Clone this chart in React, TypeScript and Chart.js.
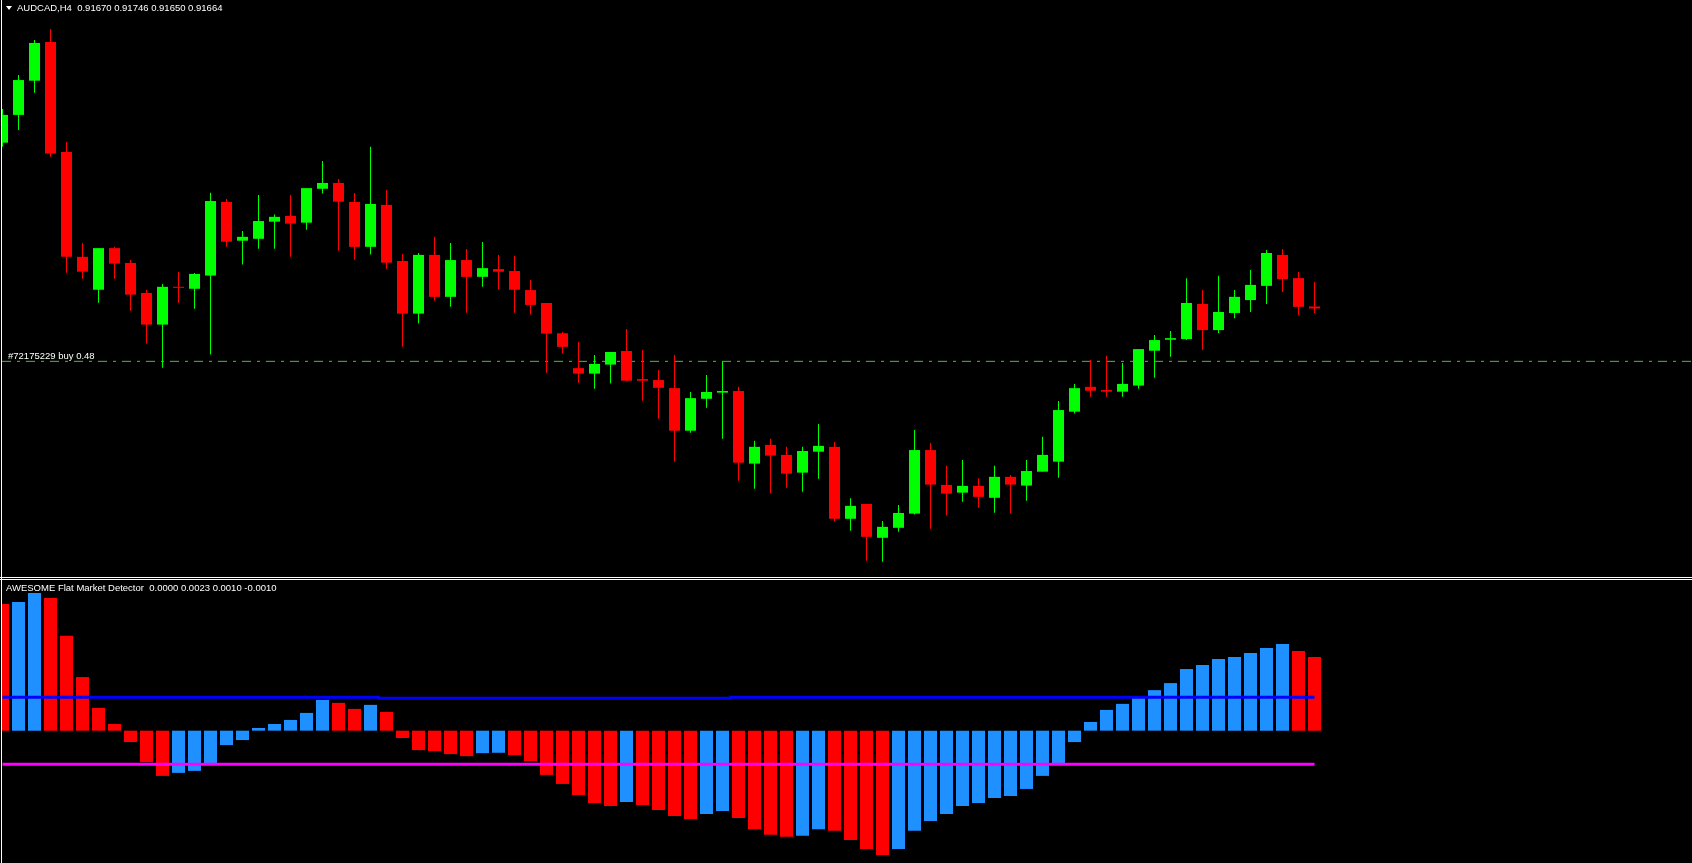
import { useEffect, useRef } from 'react';
import { Chart, registerables } from 'chart.js';

Chart.register(...registerables);

// ---------- text ----------
const SYMBOL_LABEL = 'AUDCAD,H4  0.91670 0.91746 0.91650 0.91664';
const INDICATOR_LABEL = 'AWESOME Flat Market Detector  0.0000 0.0023 0.0010 -0.0010';
const ORDER_LABEL = '#72175229 buy 0.48';
const ORDER_PRICE = 0.915;

// ---------- candles (H4 AUDCAD) ----------
const opens = [
  0.92178, 0.92264, 0.9237, 0.9249, 0.92149, 0.91824, 0.91722, 0.91851, 0.91805, 0.91712,
  0.91614, 0.91731, 0.91725, 0.91766, 0.91994, 0.91874, 0.9188, 0.91933, 0.91951, 0.9193,
  0.92035, 0.92053, 0.91994, 0.91855, 0.91985, 0.91811, 0.91648, 0.9183, 0.917, 0.91814,
  0.91762, 0.91786, 0.9178, 0.91721, 0.91681, 0.91587, 0.91479, 0.91462, 0.9149, 0.91532,
  0.91445, 0.91442, 0.91417, 0.91285, 0.91384, 0.91403, 0.91408, 0.91183, 0.91241, 0.9121,
  0.91155, 0.9122, 0.91235, 0.91012, 0.91058, 0.90953, 0.90984, 0.91028, 0.91225, 0.91117,
  0.91093, 0.91114, 0.91077, 0.91142, 0.91115, 0.91158, 0.91189, 0.91344, 0.91421, 0.91411,
  0.91406, 0.91425, 0.91533, 0.91567, 0.91569, 0.91678, 0.91597, 0.9165, 0.9169, 0.91734,
  0.9183, 0.91758, 0.9167,
];
const highs = [
  0.92282, 0.92388, 0.92496, 0.9253, 0.9218, 0.91867, 0.91851, 0.91855, 0.91814, 0.91721,
  0.9174, 0.91777, 0.91774, 0.92023, 0.92003, 0.91904, 0.92016, 0.91955, 0.92016, 0.92037,
  0.92121, 0.92065, 0.92022, 0.92165, 0.92031, 0.91833, 0.91836, 0.91886, 0.91867, 0.91848,
  0.9187, 0.9183, 0.91827, 0.91752, 0.91681, 0.91592, 0.9156, 0.9152, 0.91529, 0.916,
  0.91535, 0.91473, 0.9152, 0.91405, 0.91458, 0.915, 0.91421, 0.91254, 0.9126, 0.91235,
  0.91235, 0.91306, 0.9125, 0.91076, 0.91058, 0.91005, 0.91055, 0.91287, 0.91247, 0.91176,
  0.91194, 0.91138, 0.91176, 0.91148, 0.91194, 0.91266, 0.91377, 0.9143, 0.91504, 0.91517,
  0.91495, 0.91538, 0.91582, 0.91594, 0.91758, 0.91721, 0.91765, 0.91721, 0.91783, 0.91845,
  0.91848, 0.91777, 0.91746,
];
const lows = [
  0.92165, 0.92217, 0.92333, 0.92134, 0.91775, 0.91756, 0.91682, 0.91756, 0.91657, 0.91555,
  0.9148, 0.91682, 0.91663, 0.91521, 0.91855, 0.918, 0.91849, 0.91849, 0.91824, 0.91908,
  0.9202, 0.91843, 0.91815, 0.91831, 0.91787, 0.91545, 0.91617, 0.91688, 0.91669, 0.91651,
  0.91731, 0.91722, 0.91651, 0.91645, 0.91465, 0.91524, 0.91434, 0.91415, 0.91431, 0.9144,
  0.91378, 0.91322, 0.91189, 0.91279, 0.91356, 0.9126, 0.9113, 0.91105, 0.9109, 0.91108,
  0.91096, 0.91136, 0.91003, 0.90975, 0.90882, 0.90879, 0.90972, 0.91025, 0.90981, 0.91022,
  0.91065, 0.91046, 0.91031, 0.91028, 0.91068, 0.91158, 0.91139, 0.91338, 0.9139, 0.9139,
  0.9139, 0.91415, 0.91449, 0.91514, 0.91566, 0.91535, 0.91588, 0.91634, 0.91653, 0.91678,
  0.91715, 0.91644, 0.9165,
];
const closes = [
  0.92264, 0.92372, 0.92487, 0.92144, 0.91824, 0.91778, 0.91851, 0.91803, 0.91707, 0.91614,
  0.91731, 0.91728, 0.91771, 0.91997, 0.91871, 0.91886, 0.91935, 0.91948, 0.91927, 0.92037,
  0.92053, 0.91995, 0.91855, 0.91988, 0.91806, 0.91648, 0.9183, 0.917, 0.91814, 0.91762,
  0.91789, 0.91778, 0.91722, 0.91675, 0.91586, 0.91545, 0.91462, 0.91492, 0.91529, 0.9144,
  0.9144, 0.91418, 0.91285, 0.91386, 0.91405, 0.91408, 0.91186, 0.91235, 0.91208, 0.91152,
  0.91222, 0.91238, 0.91012, 0.91052, 0.90956, 0.90987, 0.9103, 0.91225, 0.91118, 0.9109,
  0.91114, 0.9108, 0.91142, 0.91118, 0.9116, 0.9121, 0.91349, 0.91417, 0.91409, 0.91406,
  0.9143, 0.91538, 0.91566, 0.91572, 0.91681, 0.91597, 0.91653, 0.917, 0.91737, 0.91836,
  0.91755, 0.91669, 0.91664,
];

// ---------- indicator histogram ----------
const histValues = [
  0.00378, 0.00384, 0.00411, 0.00396, 0.00283, 0.0016, 0.00068, 0.0002, -0.00034, -0.00094,
  -0.00135, -0.00126, -0.0012, -0.00097, -0.00043, -0.00028, 0.00008, 0.0002, 0.00032, 0.00053,
  0.00092, 0.00083, 0.00065, 0.00077, 0.00056, -0.00022, -0.00058, -0.00061, -0.0007, -0.00076,
  -0.00067, -0.00066, -0.00073, -0.00091, -0.00132, -0.00159, -0.00192, -0.00216, -0.00225, -0.00213,
  -0.00222, -0.00237, -0.00255, -0.00264, -0.00249, -0.0024, -0.00261, -0.00294, -0.00311, -0.00317,
  -0.00314, -0.00294, -0.00299, -0.00326, -0.00353, -0.00371, -0.00353, -0.00299, -0.0027, -0.00249,
  -0.00225, -0.00216, -0.00201, -0.00195, -0.00174, -0.00135, -0.00097, -0.00034, 0.00026, 0.00062,
  0.0008, 0.00098, 0.00121, 0.00142, 0.00184, 0.00196, 0.00214, 0.0022, 0.00232, 0.00247,
  0.00259, 0.00238, 0.0022,
];
// U = rising (blue), D = falling (red)
const histTrend = (
  'D' + 'UU' + 'DDDDDDDD' + 'UUUUUUUUUU' + 'DD' + 'U' + 'DDDDDD' + 'UU' + 'DDDDDDD' + 'U' +
  'DDDD' + 'UU' + 'DDDD' + 'UU' + 'DDDD' + 'UUUUUUUUUUUUUUUUUUUUUUUUU' + 'DD'
).split('');
const upperLevel = [
  0.001, 0.001, 0.001, 0.001, 0.001, 0.001, 0.001, 0.001, 0.001, 0.001,
  0.001, 0.001, 0.001, 0.001, 0.001, 0.001, 0.001, 0.001, 0.001, 0.001,
  0.001, 0.001, 0.001, 0.001, 0.00097, 0.00097, 0.00097, 0.00097, 0.00097, 0.00097,
  0.00097, 0.00097, 0.00097, 0.00097, 0.00097, 0.00097, 0.00097, 0.00097, 0.00097, 0.00097,
  0.00097, 0.00097, 0.00097, 0.00097, 0.00097, 0.00097, 0.001, 0.001, 0.001, 0.001,
  0.001, 0.001, 0.001, 0.001, 0.001, 0.001, 0.001, 0.001, 0.001, 0.001,
  0.001, 0.001, 0.001, 0.001, 0.001, 0.001, 0.001, 0.001, 0.001, 0.001,
  0.001, 0.001, 0.001, 0.001, 0.001, 0.001, 0.001, 0.001, 0.001, 0.001,
  0.001, 0.001, 0.001,
];
const LOWER_LEVEL = -0.001;

// ---------- scale ranges ----------
const PRICE_MAX = 0.926202;
const PRICE_MIN = 0.908315;
const IND_MAX = 0.0044976;
const IND_MIN = -0.0039502;
const X_MIN = -0.03125;
const X_MAX = 105.59375;

// ---------- styles ----------
const BULL = '#00ff00';
const BEAR = '#ff0000';
const HIST_UP = '#1e90ff';
const HIST_DOWN = '#ff0000';
const FONT = "'Liberation Sans', Arial, sans-serif";

const baseOptions = (yMin: number, yMax: number): any => ({
  animation: false,
  responsive: false,
  devicePixelRatio: 1,
  events: [],
  layout: { padding: 0 },
  plugins: { legend: { display: false }, tooltip: { enabled: false }, title: { display: false } },
  scales: {
    x: { type: 'linear', min: X_MIN, max: X_MAX, display: false, offset: false },
    y: { type: 'linear', min: yMin, max: yMax, display: false },
  },
});

export default function App() {
  const mainRef = useRef<HTMLCanvasElement | null>(null);
  const indRef = useRef<HTMLCanvasElement | null>(null);

  useEffect(() => {
    const candleColors = opens.map((o, k) => (closes[k] > o ? BULL : BEAR));
    const main = new Chart(mainRef.current as HTMLCanvasElement, {
      type: 'bar',
      data: {
        datasets: [
          {
            type: 'line',
            data: [
              { x: X_MIN, y: ORDER_PRICE },
              { x: X_MAX, y: ORDER_PRICE },
            ],
            borderColor: '#32cd32',
            borderWidth: 1,
            borderDash: [9, 6, 3, 6],
            pointRadius: 0,
            order: 3,
          } as any,
          {
            type: 'bar',
            data: highs.map((h, k) => ({ x: k, y: [lows[k], h] })),
            backgroundColor: candleColors,
            barThickness: 1,
            grouped: false,
            inflateAmount: 0,
            borderWidth: 0,
            order: 2,
          } as any,
          {
            type: 'bar',
            data: opens.map((o, k) => ({ x: k, y: [o, closes[k]] })),
            backgroundColor: candleColors,
            barThickness: 11,
            minBarLength: 1,
            grouped: false,
            inflateAmount: 0,
            borderWidth: 0,
            order: 1,
          } as any,
        ],
      },
      options: baseOptions(PRICE_MIN, PRICE_MAX),
    });

    const ind = new Chart(indRef.current as HTMLCanvasElement, {
      type: 'bar',
      data: {
        datasets: [
          {
            type: 'line',
            data: upperLevel.map((v, k) => ({ x: k, y: v })),
            borderColor: '#0000ff',
            borderWidth: 3,
            pointRadius: 0,
            stepped: 'middle',
            order: 0,
          } as any,
          {
            type: 'line',
            data: histValues.map((_, k) => ({ x: k, y: LOWER_LEVEL })),
            borderColor: '#ff00ff',
            borderWidth: 3,
            pointRadius: 0,
            order: 0,
          } as any,
          {
            type: 'bar',
            data: histValues.map((v, k) => ({ x: k, y: v })),
            backgroundColor: histTrend.map((t) => (t === 'U' ? HIST_UP : HIST_DOWN)),
            barThickness: 13,
            grouped: false,
            inflateAmount: 0,
            borderWidth: 0,
            order: 1,
          } as any,
        ],
      },
      options: baseOptions(IND_MIN, IND_MAX),
    });

    return () => {
      main.destroy();
      ind.destroy();
    };
  }, []);

  const textStyle: any = {
    position: 'absolute',
    color: '#ffffff',
    fontFamily: FONT,
    fontSize: '9.5px',
    lineHeight: '12px',
    whiteSpace: 'pre',
  };

  return (
    <div
      style={{
        position: 'fixed',
        left: 0,
        top: 0,
        width: 1692,
        height: 863,
        background: '#000000',
        overflow: 'hidden',
      }}
    >
      <canvas
        ref={mainRef}
        width={1690}
        height={577}
        style={{ position: 'absolute', left: 2, top: 0, width: 1690, height: 577 }}
      />
      <canvas
        ref={indRef}
        width={1690}
        height={283}
        style={{ position: 'absolute', left: 2, top: 580, width: 1690, height: 283 }}
      />
      {/* frame lines */}
      <div style={{ position: 'absolute', left: 1, top: 0, width: 1, height: 863, background: '#ffffff' }} />
      <div style={{ position: 'absolute', left: 0, top: 577, width: 1692, height: 1, background: '#ffffff' }} />
      <div style={{ position: 'absolute', left: 0, top: 579, width: 1692, height: 1, background: '#ffffff' }} />
      {/* header */}
      <div
        style={{
          position: 'absolute',
          left: 6,
          top: 6,
          width: 0,
          height: 0,
          borderLeft: '3.5px solid transparent',
          borderRight: '3.5px solid transparent',
          borderTop: '4px solid #ffffff',
        }}
      />
      <div style={{ ...textStyle, left: 17, top: 2 }}>{SYMBOL_LABEL}</div>
      <div style={{ ...textStyle, left: 8, top: 350 }}>{ORDER_LABEL}</div>
      <div style={{ ...textStyle, left: 6, top: 582 }}>{INDICATOR_LABEL}</div>
    </div>
  );
}
